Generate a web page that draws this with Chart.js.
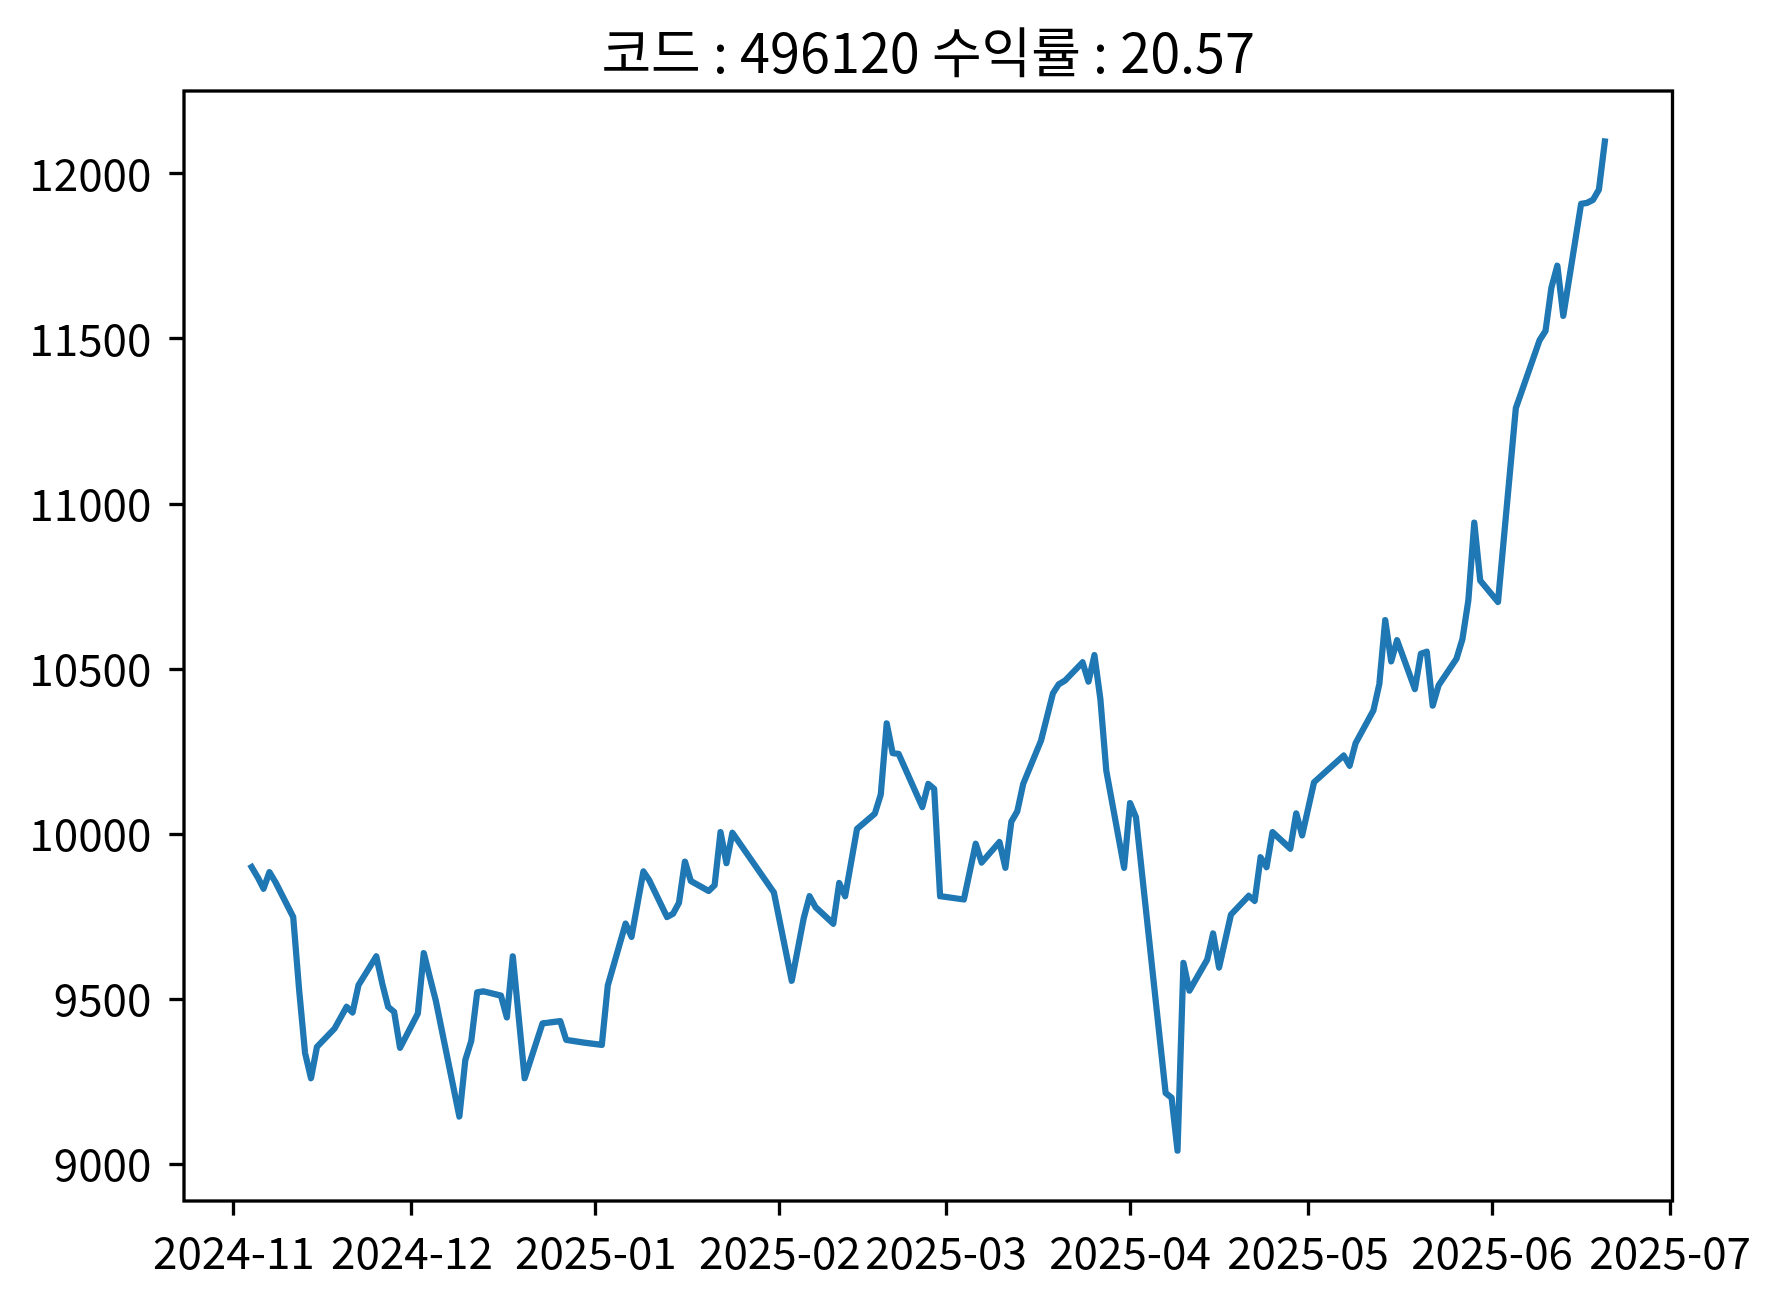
<!DOCTYPE html>
<html>
<head>
<meta charset="utf-8">
<script src="https://cdn.jsdelivr.net/npm/chart.js@4.4.1/dist/chart.umd.min.js"></script>
<style>
  html, body { margin: 0; padding: 0; background: #fff; }
  canvas { display: block; }
</style>
</head>
<body>
<canvas id="chart" width="1784" height="1300"></canvas>
<script>
// trading days where the line changes direction
const dates = [
  '2024-11-04', '2024-11-05', '2024-11-06', '2024-11-07', '2024-11-08', '2024-11-11',
  '2024-11-12', '2024-11-13', '2024-11-14', '2024-11-15', '2024-11-18', '2024-11-20',
  '2024-11-21', '2024-11-22', '2024-11-25', '2024-11-26', '2024-11-27', '2024-11-28',
  '2024-11-29', '2024-12-02', '2024-12-03', '2024-12-04', '2024-12-05', '2024-12-09',
  '2024-12-10', '2024-12-11', '2024-12-12', '2024-12-13', '2024-12-16', '2024-12-17',
  '2024-12-18', '2024-12-20', '2024-12-23', '2024-12-24', '2024-12-26', '2024-12-27',
  '2024-12-30', '2025-01-02', '2025-01-03', '2025-01-06', '2025-01-07', '2025-01-09',
  '2025-01-10', '2025-01-13', '2025-01-14', '2025-01-15', '2025-01-16', '2025-01-17',
  '2025-01-20', '2025-01-21', '2025-01-22', '2025-01-23', '2025-01-24', '2025-01-31',
  '2025-02-03', '2025-02-05', '2025-02-06', '2025-02-07', '2025-02-10', '2025-02-11',
  '2025-02-12', '2025-02-14', '2025-02-17', '2025-02-18', '2025-02-19', '2025-02-20',
  '2025-02-21', '2025-02-25', '2025-02-26', '2025-02-27', '2025-02-28', '2025-03-04',
  '2025-03-06', '2025-03-07', '2025-03-10', '2025-03-11', '2025-03-12', '2025-03-13',
  '2025-03-14', '2025-03-17', '2025-03-19', '2025-03-20', '2025-03-21', '2025-03-24',
  '2025-03-25', '2025-03-26', '2025-03-27', '2025-03-28', '2025-03-31', '2025-04-01',
  '2025-04-02', '2025-04-07', '2025-04-08', '2025-04-09', '2025-04-10', '2025-04-11',
  '2025-04-14', '2025-04-15', '2025-04-16', '2025-04-18', '2025-04-21', '2025-04-22',
  '2025-04-23', '2025-04-24', '2025-04-25', '2025-04-28', '2025-04-29', '2025-04-30',
  '2025-05-02', '2025-05-07', '2025-05-08', '2025-05-09', '2025-05-12', '2025-05-13',
  '2025-05-14', '2025-05-15', '2025-05-16', '2025-05-19', '2025-05-20', '2025-05-21',
  '2025-05-22', '2025-05-23', '2025-05-26', '2025-05-27', '2025-05-28', '2025-05-29',
  '2025-05-30', '2025-06-02', '2025-06-05', '2025-06-09', '2025-06-10', '2025-06-11',
  '2025-06-12', '2025-06-13', '2025-06-16', '2025-06-17', '2025-06-18', '2025-06-19',
  '2025-06-20'
];
const prices = [
  9901, 9871, 9836, 9886, 9856, 9750,
  9529, 9338, 9262, 9357, 9413, 9478,
  9461, 9544, 9631, 9549, 9478, 9463,
  9354, 9458, 9641, 9569, 9499, 9146,
  9317, 9375, 9522, 9525, 9512, 9446,
  9631, 9262, 9428, 9430, 9435, 9378,
  9370, 9363, 9542, 9730, 9690, 9888,
  9861, 9750, 9760, 9793, 9918, 9859,
  9829, 9846, 10007, 9913, 10005, 9824,
  9557, 9745, 9813, 9780, 9730, 9853,
  9813, 10017, 10063, 10121, 10336, 10246,
  10244, 10083, 10153, 10138, 9813, 9803,
  9972, 9915, 9977, 9899, 10039, 10070,
  10153, 10284, 10427, 10455, 10465, 10521,
  10463, 10543, 10410, 10193, 9899, 10095,
  10052, 9217, 9203, 9043, 9611, 9527,
  9621, 9700, 9597, 9757, 9814, 9799,
  9931, 9901, 10007, 9957, 10064, 9997,
  10158, 10239, 10208, 10276, 10375, 10455,
  10649, 10524, 10588, 10440, 10547, 10553,
  10390, 10452, 10532, 10591, 10708, 10944,
  10769, 10704, 11290, 11496, 11524, 11656,
  11722, 11570, 11909, 11912, 11921, 11952,
  12098
];
const monthTicks = ['2024-11', '2024-12', '2025-01', '2025-02', '2025-03', '2025-04', '2025-05', '2025-06', '2025-07'];
const priceTicks = [9000, 9500, 10000, 10500, 11000, 11500, 12000];
const chartTitle = '코드 : 496120 수익률 : 20.57';

const FONT = "'Noto Sans CJK KR', 'Noto Sans', sans-serif";

const xs = dates.map(d => Date.parse(d));
const points = xs.map((x, i) => ({ x: x, y: prices[i] }));

// matplotlib style 5% margins
function padded(arr) {
  const lo = Math.min(...arr), hi = Math.max(...arr);
  const m = (hi - lo) * 0.05;
  return [lo - m, hi + m];
}
const [xMin, xMax] = padded(xs);
const [yMin, yMax] = padded(prices);

// box around the plot like matplotlib spines
const frame = {
  id: 'frame',
  afterDatasetsDraw(chart) {
    const a = chart.chartArea, c = chart.ctx;
    c.save();
    c.strokeStyle = '#000';
    c.lineWidth = 3.3;
    c.strokeRect(a.left, a.top, a.right - a.left, a.bottom - a.top);
    c.restore();
  }
};

const ctx = document.getElementById('chart').getContext('2d');
new Chart(ctx, {
  type: 'line',
  data: {
    datasets: [{
      data: points,
      borderColor: '#1f77b4',
      borderWidth: 6.25,
      borderCapStyle: 'square',
      borderJoinStyle: 'round',
      pointRadius: 0,
      tension: 0,
      fill: false
    }]
  },
  options: {
    responsive: false,
    animation: false,
    devicePixelRatio: 1,
    layout: { padding: { top: 0, right: 111.5, bottom: 0, left: 0 } },
    plugins: {
      legend: { display: false },
      tooltip: { enabled: false },
      title: {
        display: true,
        text: chartTitle,
        fullSize: false,
        color: '#000',
        font: { family: FONT, size: 54, weight: 'normal', lineHeight: 1.2 },
        padding: { top: 20, bottom: 6.2 }
      }
    },
    scales: {
      x: {
        type: 'linear',
        min: xMin,
        max: xMax,
        afterBuildTicks: s => { s.ticks = monthTicks.map(m => ({ value: Date.parse(m + '-01') })); },
        afterFit: s => { s.height = 99; },
        grid: { display: true, drawOnChartArea: false, drawTicks: true, tickLength: 14.6, tickWidth: 3.3, tickColor: '#000' },
        border: { display: false },
        ticks: {
          color: '#000',
          padding: 10,
          maxRotation: 0,
          autoSkip: false,
          font: { family: FONT, size: 44 },
          callback: v => new Date(v).toISOString().slice(0, 7)
        }
      },
      y: {
        min: yMin,
        max: yMax,
        afterBuildTicks: s => { s.ticks = priceTicks.map(v => ({ value: v })); },
        afterFit: s => { s.width = 184; },
        grid: { display: true, drawOnChartArea: false, drawTicks: true, tickLength: 14.6, tickWidth: 3.3, tickColor: '#000' },
        border: { display: false },
        ticks: {
          color: '#000',
          padding: 18,
          font: { family: FONT, size: 44 },
          callback: v => String(v)
        }
      }
    }
  },
  plugins: [frame]
});
</script>
</body>
</html>
